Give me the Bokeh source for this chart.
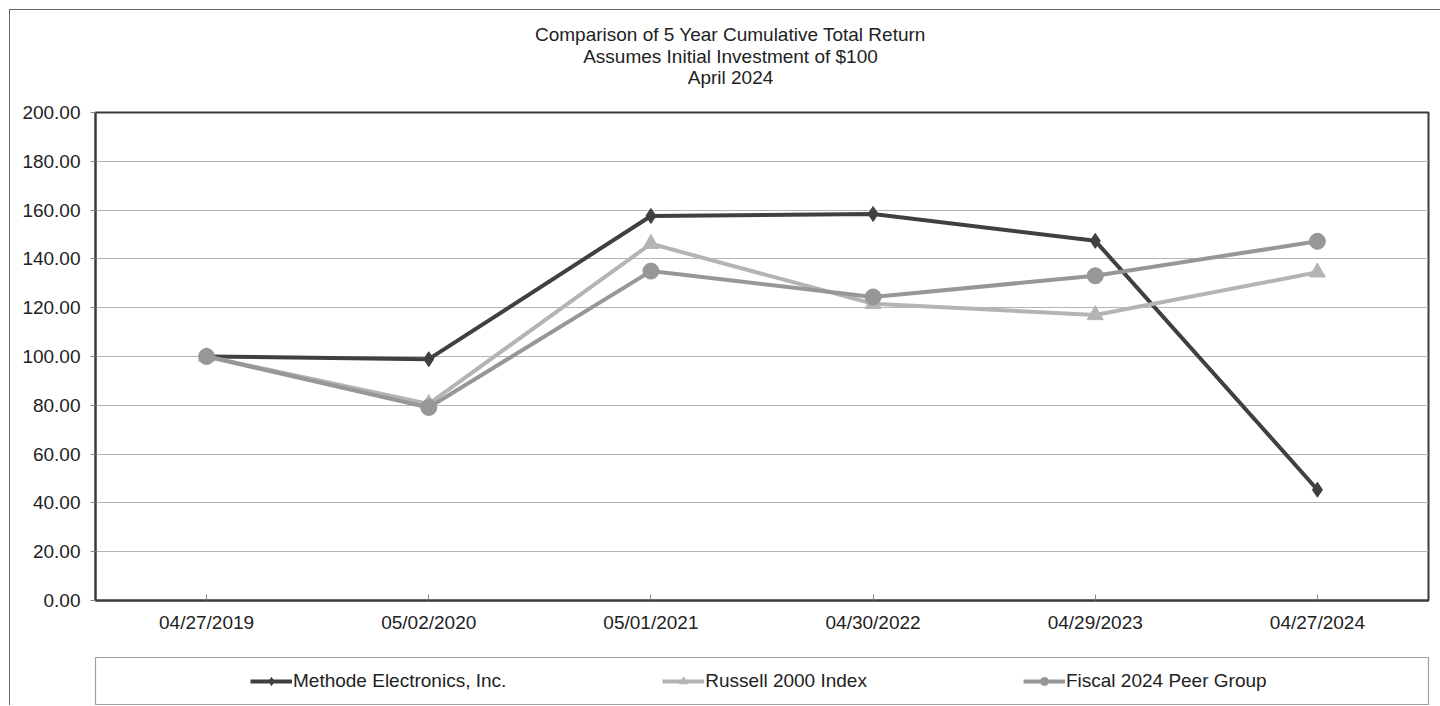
from bokeh.plotting import figure
from bokeh.layouts import column
from bokeh.models import (Legend, LegendItem, Label, NumeralTickFormatter,
                          FixedTicker, Range1d, FactorRange)
from bokeh.embed import file_html
from bokeh.resources import INLINE

dates = ["04/27/2019", "05/02/2020", "05/01/2021", "04/30/2022", "04/29/2023", "04/27/2024"]
methode = [100.00, 98.9, 157.6, 158.4, 147.4, 45.4]
russell = [100.00, 80.6, 146.2, 121.6, 117.0, 134.5]
peer = [100.00, 79.1, 135.0, 124.4, 133.1, 147.2]
series_names = ["Methode Electronics, Inc.", "Russell 2000 Index", "Fiscal 2024 Peer Group"]
title_lines = ["Comparison of 5 Year Cumulative Total Return",
               "Assumes Initial Investment of $100", "April 2024"]

FONT = "Liberation Sans"
TXT = "#222222"
FS = "19px"

# heading strip (page pixels as its coordinate system)
pt = figure(width=1430, height=82, x_range=Range1d(95, 1428), y_range=Range1d(92, 10),
            output_backend="svg", toolbar_location=None,
            x_axis_location=None, y_axis_location=None,
            min_border_left=85, min_border_right=12, min_border_top=0, min_border_bottom=0)
pt.grid.grid_line_color = None
pt.outline_line_color = None
for txt, yv in zip(title_lines, [34, 56, 77]):
    pt.add_layout(Label(x=730, y=yv, text=txt, text_align="center", text_baseline="middle",
                        text_font=FONT, text_font_size=FS, text_color=TXT))

p = figure(width=1430, height=548, x_range=FactorRange(*dates, range_padding=0),
           y_range=Range1d(0, 200), output_backend="svg", toolbar_location=None,
           min_border_left=85, min_border_right=12, min_border_top=20, min_border_bottom=40)
p.outline_line_color = "#3a3a3a"
p.outline_line_width = 2

p.xgrid.grid_line_color = None
p.ygrid.grid_line_color = "#b4b4b4"
p.ygrid.grid_line_width = 1.2

p.yaxis.ticker = FixedTicker(ticks=list(range(0, 201, 20)))
p.yaxis.formatter = NumeralTickFormatter(format="0.00")
p.yaxis.minor_tick_line_color = None
p.yaxis.major_tick_in = 0
p.yaxis.major_tick_out = 5
p.yaxis.major_label_standoff = 10
for ax in (p.xaxis, p.yaxis):
    ax.axis_line_color = "#3a3a3a"
    ax.axis_line_width = 2
    ax.major_tick_line_color = "#888888"
    ax.major_label_text_font = FONT
    ax.major_label_text_font_size = FS
    ax.major_label_text_color = TXT
p.xaxis.major_tick_in = 6
p.xaxis.major_tick_out = 0
p.xaxis.major_label_standoff = 11

colors = ["#404040", "#b4b4b4", "#979797"]
markers = ["diamond", "triangle", "circle"]
sizes = [15, 16, 16]
data = [methode, russell, peer]

# legend panel underneath: its frame outline is the legend box
pl = figure(width=1430, height=65, x_range=Range1d(0, 1), y_range=Range1d(0, 1),
            output_backend="svg", toolbar_location=None,
            x_axis_location=None, y_axis_location=None,
            min_border_left=85, min_border_right=12, min_border_top=17, min_border_bottom=1)
pl.grid.grid_line_color = None
pl.outline_line_color = "#a0a0a0"
pl.outline_line_width = 1.2

items = []
for name, vals, c, m, s in zip(series_names, data, colors, markers, sizes):
    p.line(dates, vals, line_color=c, line_width=4)
    p.scatter(dates, vals, marker=m, size=s, fill_color=c, line_color=c)
    ln = pl.line([0, 1], [0, 0], line_color=c, line_width=4, visible=False)
    sc = pl.scatter([0.5], [0], marker=m, size=s, fill_color=c, line_color=c, visible=False)
    items.append(LegendItem(label=name, renderers=[ln, sc]))

lg = Legend(items=items, location=(155, 12), orientation="horizontal",
            border_line_alpha=0, background_fill_alpha=0, padding=0, margin=0,
            spacing=156, glyph_width=42, glyph_height=20, label_standoff=1,
            label_text_font=FONT, label_text_font_size=FS, label_text_color=TXT)
pl.add_layout(lg, "center")

layout = column(pt, p, pl, spacing=0, margin=(9, 0, 0, 9),
                styles={"border-left": "1px solid #666666", "border-top": "1px solid #666666"})

open("out.html", "w").write(file_html(layout, INLINE))
